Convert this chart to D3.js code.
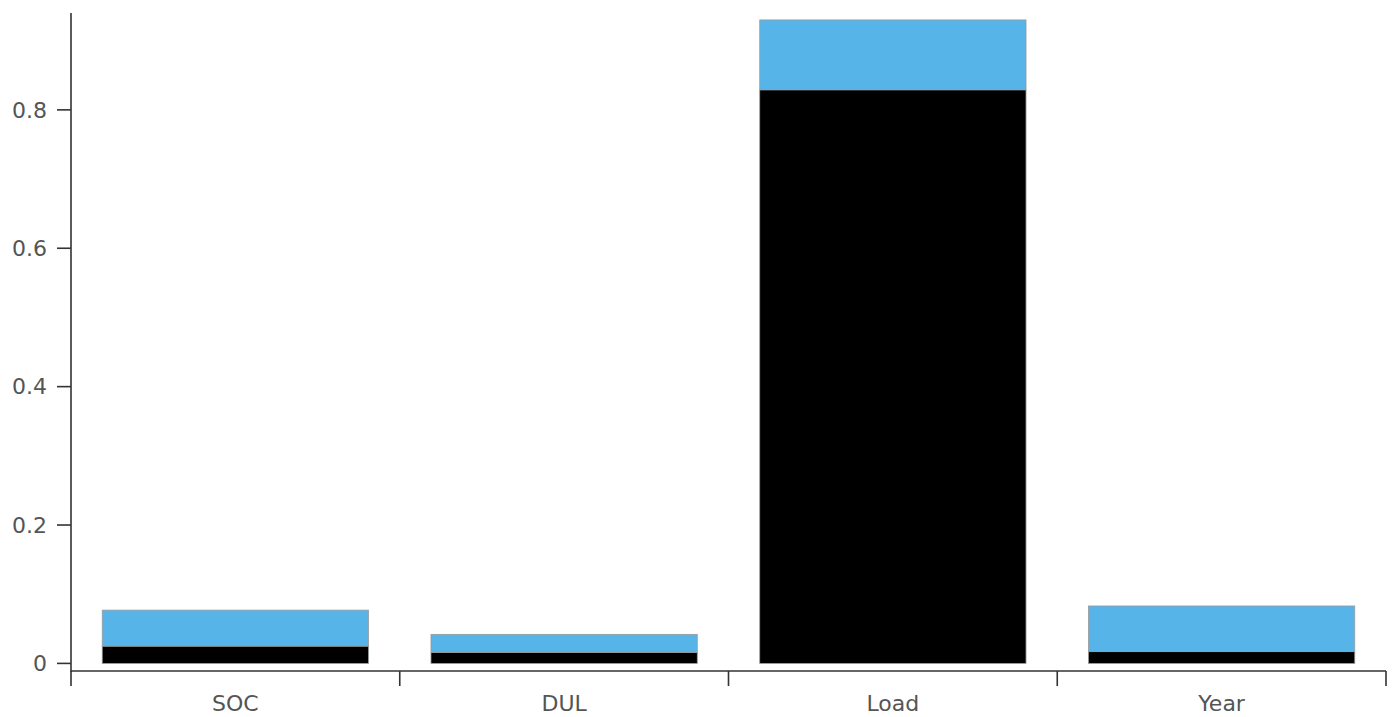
<!DOCTYPE html>
<html><head><meta charset="utf-8">
<script src="https://cdn.jsdelivr.net/npm/d3@7"></script>
<style>body{margin:0;background:#fff}svg{display:block}</style>
</head><body>
<svg id="c" width="1394" height="717"></svg>
<script>
const categories = ["SOC", "DUL", "Load", "Year"];
const seriesA = [0.025, 0.016, 0.829, 0.017];   // black (lower)
const seriesB = [0.052, 0.026, 0.101, 0.066];   // blue (upper)
const yTicks = [0, 0.2, 0.4, 0.6, 0.8];
const yTickLabels = ["0", "0.2", "0.4", "0.6", "0.8"];

const svg = d3.select("#c");
const x = d3.scaleBand().domain(categories).range([71, 1386]).paddingInner(0.19).paddingOuter(0.095);
const xb = d3.scaleBand().domain(categories).range([71, 1386]);
const y = d3.scaleLinear().domain([0, 0.94]).range([663.4, 13]);

const rows = categories.map((c, i) => ({cat: c, a: seriesA[i], b: seriesB[i]}));
const stack = d3.stack().keys(["a", "b"])(rows);
const colors = {a: "#000000", b: "#56B4E9"};

svg.append("g").selectAll("g").data(stack).join("g")
  .attr("fill", d => colors[d.key])
  .selectAll("rect").data(d => d).join("rect")
  .attr("x", d => x(d.data.cat))
  .attr("width", x.bandwidth())
  .attr("y", d => y(d[1]))
  .attr("height", d => y(d[0]) - y(d[1]))
  .attr("stroke", "#9a9a9a").attr("stroke-width", 0.8);

const font = "DejaVu Sans, sans-serif";
const axisColor = "#333";
const textColor = "#555";
const fs = 22;

// Y axis
const yAxis = svg.append("g");
yAxis.append("line").attr("x1", 71).attr("x2", 71).attr("y1", 13).attr("y2", 672)
  .attr("stroke", axisColor).attr("stroke-width", 1.6);
yAxis.selectAll("line.t").data(yTicks).join("line").attr("class", "t")
  .attr("x1", 57).attr("x2", 71).attr("y1", d => y(d)).attr("y2", d => y(d))
  .attr("stroke", axisColor).attr("stroke-width", 1.6);
yAxis.selectAll("text").data(yTicks).join("text")
  .attr("x", 47).attr("y", d => y(d)).attr("dy", "0.35em")
  .attr("text-anchor", "end").attr("font-family", font).attr("font-size", fs)
  .attr("fill", textColor).text((d, i) => yTickLabels[i]);

// X axis
const xAxis = svg.append("g");
xAxis.append("line").attr("x1", 71).attr("x2", 1386).attr("y1", 671).attr("y2", 671)
  .attr("stroke", axisColor).attr("stroke-width", 1.6);
const bounds = categories.map(c => xb(c)).concat([xb(categories[categories.length-1]) + xb.bandwidth()]);
xAxis.selectAll("line.t").data(bounds).join("line").attr("class", "t")
  .attr("x1", d => d).attr("x2", d => d).attr("y1", 671).attr("y2", 686)
  .attr("stroke", axisColor).attr("stroke-width", 1.6);
xAxis.selectAll("text").data(categories).join("text")
  .attr("x", d => xb(d) + xb.bandwidth() / 2).attr("y", 711)
  .attr("text-anchor", "middle").attr("font-family", font).attr("font-size", fs)
  .attr("fill", textColor).text(d => d);
</script>
</body></html>
